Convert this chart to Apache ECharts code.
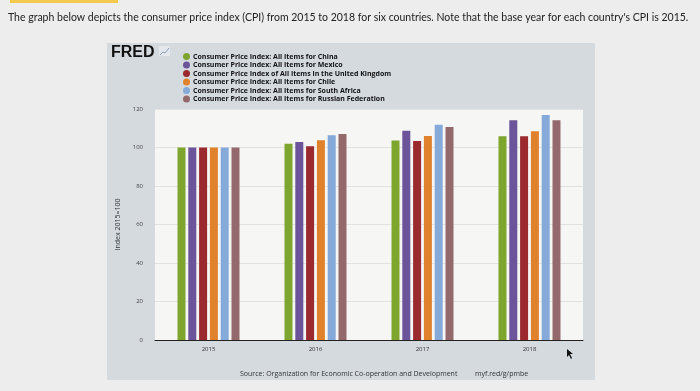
<!DOCTYPE html>
<html>
<head>
<meta charset="utf-8">
<script src="https://cdn.jsdelivr.net/npm/echarts@6/dist/echarts.min.js"></script>
<style>
html,body{margin:0;padding:0;background:#ececec;}
#chart{width:700px;height:391px;}
</style>
</head>
<body>
<div id="chart"></div>
<script>
var categories = ['2015', '2016', '2017', '2018'];
var seriesNames = [
  'Consumer Price Index: All Items for China',
  'Consumer Price Index: All Items for Mexico',
  'Consumer Price Index of All Items in the United Kingdom',
  'Consumer Price Index: All Items for Chile',
  'Consumer Price Index: All Items for South Africa',
  'Consumer Price Index: All Items for Russian Federation'
];
var china = [100, 102.0, 103.6, 105.8];
var mexico = [100, 102.8, 108.7, 114.1];
var uk = [100, 100.7, 103.4, 105.9];
var chile = [100, 103.8, 106.0, 108.5];
var southAfrica = [100, 106.3, 111.8, 116.9];
var russia = [100, 107.0, 110.6, 114.2];
var yTicks = [0, 20, 40, 60, 80, 100, 120];

var colors = ['#7ea52e', '#6b5499', '#9b2a2f', '#e0822b', '#85a9d8', '#93696b'];
var allData = [china, mexico, uk, chile, southAfrica, russia];

var chart = echarts.init(document.getElementById('chart'), null, {renderer: 'canvas'});
var series = allData.map(function (d, i) {
  return {
    name: seriesNames[i],
    type: 'bar',
    data: d,
    barWidth: 8,
    barGap: '35%',
    itemStyle: {color: colors[i]}
  };
});

chart.setOption({
  backgroundColor: '#ececec',
  animation: false,
  graphic: [
    {type: 'rect', z: -10, shape: {x: 0, y: 0, width: 700, height: 391}, style: {fill: '#ededed'}},
    {type: 'rect', z: -9, shape: {x: 10, y: 0, width: 108, height: 3}, style: {fill: '#f2c94c'}},
    {type: 'rect', z: -8, shape: {x: 107, y: 43, width: 488, height: 337}, style: {fill: '#d5dadf'}},
    {type: 'rect', z: -7, shape: {x: 155, y: 109, width: 428, height: 231}, style: {fill: '#f6f6f4'}},
    {type: 'text', left: 8, top: 12, style: {text: "The graph below depicts the consumer price index (CPI) from 2015 to 2018 for six countries. Note that the base year for each country's CPI is 2015.", font: '10.5px Lato', fill: '#222'}},
    {type: 'text', left: 111, top: 45, style: {text: 'FRED', font: 'bold 16px "Liberation Sans"', fill: '#111'}},
    {type: 'text', left: 240, top: 370, style: {text: 'Source: Organization for Economic Co-operation and Development', font: '7px "Open Sans"', fill: '#333'}},
    {type: 'text', left: 475, top: 370, style: {text: 'myf.red/g/pmbe', font: '7px "Open Sans"', fill: '#333'}},
    {type: 'rect', shape: {x: 159, y: 46, width: 11, height: 10}, style: {fill: '#e4e8ec'}},
    {type: 'polyline', shape: {points: [[160, 55], [163, 52], [165, 53], [169, 48]]}, style: {stroke: '#8aa0b8', lineWidth: 1, fill: null}},
    {type: 'polygon', shape: {points: [[567, 349], [567, 357], [569, 355], [571, 359], [572, 358], [570, 354], [573, 354]]}, style: {fill: '#111'}}
  ],
  legend: {
    orient: 'vertical',
    left: 178,
    top: 48,
    itemGap: 1.5,
    itemWidth: 7,
    itemHeight: 7,
    icon: 'circle',
    textStyle: {fontSize: 7, fontWeight: 'bold', color: '#111', fontFamily: '"Open Sans"', padding: [0, 0, 0, -2]},
    data: seriesNames
  },
  grid: {left: 155, right: 117, top: 109, bottom: 51, containLabel: false},
  xAxis: {
    type: 'category',
    data: categories,
    axisLine: {lineStyle: {color: '#222', width: 1}},
    axisTick: {show: false},
    axisLabel: {fontSize: 6, color: '#333', margin: 6, fontFamily: '"Open Sans"'}
  },
  yAxis: {
    type: 'value',
    min: yTicks[0],
    max: yTicks[yTicks.length - 1],
    interval: 20,
    name: 'Index 2015=100',
    nameLocation: 'middle',
    nameGap: 33,
    nameTextStyle: {fontSize: 7, color: '#333', fontFamily: '"Open Sans"'},
    axisLine: {show: false},
    axisTick: {show: false},
    axisLabel: {fontSize: 6, color: '#444', margin: 12, fontFamily: '"Open Sans"'},
    splitLine: {lineStyle: {color: '#e2e2e2', width: 1}}
  },
  series: series
});
</script>
</body>
</html>
